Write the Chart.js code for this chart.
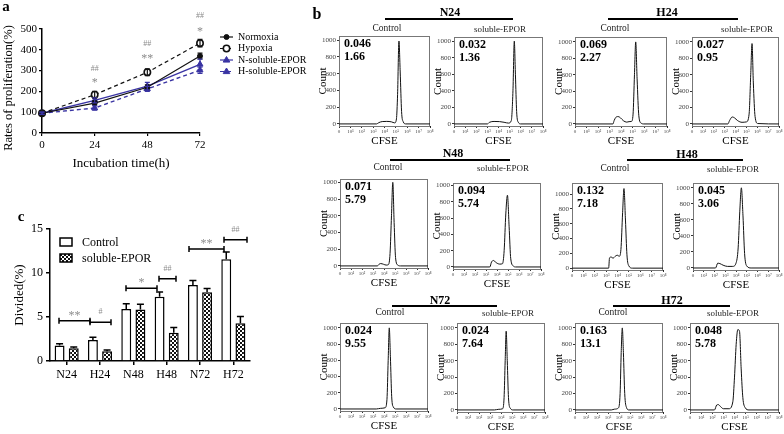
<!DOCTYPE html>
<html><head><meta charset="utf-8">
<script src="https://cdn.jsdelivr.net/npm/chart.js@4.4.1/dist/chart.umd.min.js"></script>
<style>
html,body{margin:0;padding:0;background:#fff;}
body{width:784px;height:434px;position:relative;overflow:hidden;font-family:'Liberation Serif','Times New Roman',serif;}
canvas{position:absolute;}
.t{position:absolute;white-space:nowrap;transform:translate(-50%,-50%);color:#000;line-height:1;}
.hl{position:absolute;height:0;border-top:2px solid #000;}
</style></head><body>
<script>
// ================= DATA =================
// Panel a: proliferation rates
const timePoints = [0, 24, 48, 72];
const normoxia = [95, 144, 220, 370];
const hypoxia = [95, 184, 292, 432];
const nSolubleEPOR = [95, 157, 225, 330];
const hSolubleEPOR = [95, 120, 212, 302];
const normoxiaErr = [5, 10, 12, 14];
const hypoxiaErr = [5, 16, 16, 18];
const nSolubleErr = [5, 12, 18, 25];
const hSolubleErr = [5, 10, 12, 15];
const sigTimeX = [24, 24, 48, 48, 72, 72];
const sigTimeY = [306, 254, 427, 370, 565, 503];
const sigTimeText = ['##', '*', '##', '**', '##', '*'];

// Panel c: divided cells
const groups = ['N24', 'H24', 'N48', 'H48', 'N72', 'H72'];
const dividedControl = [1.75, 2.4, 5.9, 7.3, 8.65, 11.55];
const dividedControlErr = [0.2, 0.3, 0.6, 0.55, 0.5, 0.85];
const dividedSoluble = [1.45, 1.1, 5.85, 3.2, 7.8, 4.3];
const dividedSolubleErr = [0.15, 0.15, 0.6, 0.6, 0.45, 0.75];
const bracketFrom = [-0.23, 0.7, 1.78, 2.77, 3.67, 4.72];
const bracketTo = [0.7, 1.33, 2.71, 3.28, 4.72, 5.41];
const bracketY = [4.56, 4.4, 8.28, 9.34, 12.72, 13.79];
const bracketText = ['**', '#', '*', '##', '**', '##'];

// Panel b: CFSE histograms ([log10 CFSE, count])
const countTicks = [0, 200, 400, 600, 800, 1000];
const cfseDecades = [0, 1, 2, 3, 4, 5, 6, 7, 8];
const histN24C = [[0,0],[3.3,0],[3.5,15],[3.8,28],[4.2,30],[4.6,25],[4.9,12],[5.05,60],[5.15,350],[5.27,990],[5.38,620],[5.5,150],[5.65,25],[5.85,0],[8,0]];
const histN24S = [[0,0],[3.0,0],[3.2,20],[3.6,30],[4.1,28],[4.5,20],[4.9,10],[5.15,40],[5.3,400],[5.42,1000],[5.52,600],[5.63,150],[5.78,20],[6.0,0],[8,0]];
const histH24C = [[0,0],[3.3,0],[3.4,40],[3.55,80],[3.75,90],[3.95,75],[4.2,40],[4.5,22],[4.7,28],[4.9,30],[5.05,120],[5.17,600],[5.28,1000],[5.4,550],[5.55,100],[5.75,10],[6,0],[8,0]];
const histH24S = [[0,0],[3.3,0],[3.45,40],[3.7,85],[3.9,75],[4.2,40],[4.6,20],[5.0,25],[5.25,120],[5.4,600],[5.52,980],[5.64,500],[5.8,90],[6.05,5],[8,0]];
const histN48C = [[0,0],[3.4,0],[3.55,20],[3.7,28],[3.95,20],[4.2,10],[4.4,15],[4.55,150],[4.68,600],[4.8,1000],[4.92,520],[5.05,100],[5.25,10],[5.5,0],[8,0]];
const histN48S = [[0,0],[3.35,0],[3.5,60],[3.68,80],[3.9,55],[4.25,35],[4.5,40],[4.65,200],[4.8,650],[4.95,880],[5.1,500],[5.25,100],[5.5,10],[5.7,0],[8,0]];
const histH48C = [[0,0],[3.22,0],[3.3,140],[3.45,150],[3.6,135],[3.8,160],[3.98,175],[4.15,160],[4.3,250],[4.45,750],[4.57,1075],[4.7,650],[4.83,180],[5.0,30],[5.3,0],[8,0]];
const histH48S = [[0,0],[2.1,0],[2.3,60],[2.5,55],[2.8,35],[3.2,20],[3.7,20],[4.0,60],[4.2,250],[4.35,700],[4.5,1000],[4.65,650],[4.8,180],[5.0,25],[5.4,0],[8,0]];
const histN72C = [[0,0],[3.3,0],[3.7,8],[4.1,15],[4.27,120],[4.38,600],[4.48,1000],[4.58,650],[4.7,150],[4.85,25],[5.1,0],[8,0]];
const histN72S = [[0,0],[3.4,0],[3.8,8],[4.15,15],[4.28,150],[4.38,600],[4.47,960],[4.57,600],[4.68,150],[4.85,20],[5.1,0],[8,0]];
const histH72C = [[0,0],[3.3,0],[3.6,10],[3.95,25],[4.1,200],[4.2,700],[4.3,1000],[4.4,700],[4.52,200],[4.68,30],[4.9,0],[8,0]];
const histH72S = [[0,0],[2.2,0],[2.4,60],[2.55,65],[2.75,40],[3.0,15],[3.5,15],[3.85,100],[4.0,400],[4.15,800],[4.3,980],[4.45,960],[4.6,500],[4.75,150],[4.95,30],[5.3,0],[8,0]];
const histStatA = ['0.046','0.032','0.069','0.027','0.071','0.094','0.132','0.045','0.024','0.024','0.163','0.048'];
const histStatB = ['1.66','1.36','2.27','0.95','5.79','5.74','7.18','3.06','9.55','7.64','13.1','5.78'];

// ================= LAYOUT =================
const SERIF = "'Liberation Serif','Times New Roman',serif";
const BLUE = '#3a34a3';
// histogram plot boxes [left, top, right, bottom]
const histBoxes = [
  [339,36,430,126],[454,37,543,126],[575,37,667,126],[692,37,779,126],
  [340,179,428,268],[453,183,541,269],[572,183,663,270],[693,183,779,270],
  [340,323,428,411],[457,323,545,412],[575,323,663,412],[690,323,779,412]
];
const histYMax = [1050,1050,1060,1060,1040,1030,1150,1060,1060,1060,1060,1060];
const histSeries = [histN24C,histN24S,histH24C,histH24S,histN48C,histN48S,histH48C,histH48S,histN72C,histN72S,histH72C,histH72S];
// group headers: [centerX, titleY, lineL, lineR, lineY, controlX, solubleX, subY]
const headerPos = [
  [450,12,385,513,19,387,500,29],[667,12,608,738,19,615,747,29],
  [453,153,390,510,160,388,503,168],[687,154,627,743,160,615,733,169],
  [440,300,392,497,306,390,508,313],[672,300,613,730,306,613,733,313]
];

Chart.defaults.font.family = SERIF;
Chart.defaults.color = '#000';
Chart.defaults.animation = false;
Chart.defaults.responsive = false;
Chart.defaults.devicePixelRatio = 1;
Chart.defaults.plugins.legend.display = false;
Chart.defaults.plugins.tooltip.enabled = false;

function mkCanvas(left, top, w, h) {
  const c = document.createElement('canvas');
  c.width = w; c.height = h;
  c.style.left = left + 'px'; c.style.top = top + 'px';
  c.style.width = w + 'px'; c.style.height = h + 'px';
  document.body.appendChild(c);
  return c;
}
function addText(txt, x, y, css, rot) {
  const d = document.createElement('div');
  d.className = 't'; d.textContent = txt;
  d.style.left = x + 'px'; d.style.top = y + 'px';
  d.style.cssText += css || '';
  if (rot) d.style.transform = 'translate(-50%,-50%) rotate(' + rot + 'deg)';
  document.body.appendChild(d);
  return d;
}
function addLine(l, r, y) {
  const d = document.createElement('div');
  d.className = 'hl';
  d.style.left = l + 'px'; d.style.top = (y - 1) + 'px'; d.style.width = (r - l) + 'px';
  document.body.appendChild(d);
}
function drawMarker(ctx, style, r, fill, stroke, bw, x, y) {
  ctx.save();
  ctx.setLineDash([]);
  ctx.lineWidth = bw; ctx.fillStyle = fill; ctx.strokeStyle = stroke;
  ctx.beginPath();
  if (style === 'triangle') {
    ctx.moveTo(x, y - r); ctx.lineTo(x - r * 0.95, y + r * 0.6); ctx.lineTo(x + r * 0.95, y + r * 0.6); ctx.closePath();
  } else {
    ctx.arc(x, y, r, 0, Math.PI * 2);
  }
  ctx.fill(); ctx.stroke();
  ctx.restore();
}

// ================= PANEL A =================
(function () {
  const c = mkCanvas(0, 0, 320, 175);
  const pts = arr => timePoints.map((t, i) => ({ x: t, y: arr[i] }));
  const errs = [normoxiaErr, hypoxiaErr, nSolubleErr, hSolubleErr];
  const errPlugin = {
    id: 'errA',
    afterDatasetsDraw(chart) {
      const ctx = chart.ctx, xs = chart.scales.x, ys = chart.scales.y;
      ctx.save();
      chart.data.datasets.forEach((ds, di) => {
        ctx.strokeStyle = ds.borderColor; ctx.lineWidth = 1.2;
        ds.data.forEach((p, i) => {
          const e = errs[di][i];
          const px = xs.getPixelForValue(p.x);
          const y1 = ys.getPixelForValue(p.y + e), y2 = ys.getPixelForValue(p.y - e);
          ctx.beginPath();
          ctx.moveTo(px, y1); ctx.lineTo(px, y2);
          ctx.moveTo(px - 2.5, y1); ctx.lineTo(px + 2.5, y1);
          ctx.moveTo(px - 2.5, y2); ctx.lineTo(px + 2.5, y2);
          ctx.stroke();
        });
      });
      ctx.restore();
    },
    afterDraw(chart) {
      const ctx = chart.ctx, xs = chart.scales.x, ys = chart.scales.y;
      ctx.save();
      ctx.fillStyle = '#8c8c8c'; ctx.textAlign = 'center'; ctx.textBaseline = 'middle';
      sigTimeText.forEach((t, i) => {
        const px = xs.getPixelForValue(sigTimeX[i]);
        const py = ys.getPixelForValue(sigTimeY[i]);
        if (t.indexOf('#') >= 0) { ctx.font = '8px ' + SERIF; ctx.fillText(t, px, py); }
        else { ctx.font = '12px ' + SERIF; ctx.fillText(t, px, py + 3); }
      });
      // legend
      ctx.textAlign = 'left'; ctx.font = '10px ' + SERIF; ctx.fillStyle = '#000';
      chart.data.datasets.forEach((ds, i) => {
        const y = 37 + i * 11.5;
        ctx.strokeStyle = ds.borderColor; ctx.lineWidth = 1.2; ctx.setLineDash(ds.borderDash || []);
        ctx.beginPath(); ctx.moveTo(220, y); ctx.lineTo(233, y); ctx.stroke(); ctx.setLineDash([]);
        drawMarker(ctx, ds.pointStyle, ds.pointRadius, ds.pointBackgroundColor, ds.pointBorderColor, ds.pointBorderWidth, 226.5, y);
        ctx.fillStyle = '#000';
        ctx.fillText(ds.label, 238, y);
      });
      ctx.restore();
    }
  };
  new Chart(c, {
    type: 'line',
    data: {
      datasets: [
        { label: 'Normoxia', data: pts(normoxia), borderColor: '#111', borderWidth: 1.2, pointStyle: 'circle', pointRadius: 2.5, pointBackgroundColor: '#111', pointBorderColor: '#111', pointBorderWidth: 1 },
        { label: 'Hypoxia', data: pts(hypoxia), borderColor: '#111', borderWidth: 1.2, borderDash: [4, 3], pointStyle: 'circle', pointRadius: 3.2, pointBackgroundColor: '#fff', pointBorderColor: '#111', pointBorderWidth: 1.6 },
        { label: 'N-soluble-EPOR', data: pts(nSolubleEPOR), borderColor: BLUE, borderWidth: 1.4, pointStyle: 'triangle', pointRadius: 3.5, pointBackgroundColor: BLUE, pointBorderColor: BLUE, pointBorderWidth: 1 },
        { label: 'H-soluble-EPOR', data: pts(hSolubleEPOR), borderColor: BLUE, borderWidth: 1.4, borderDash: [4, 3], pointStyle: 'triangle', pointRadius: 3.5, pointBackgroundColor: BLUE, pointBorderColor: BLUE, pointBorderWidth: 1 }
      ]
    },
    options: {
      layout: { padding: { top: 29, right: 120, left: 0, bottom: 0 } },
      clip: false,
      scales: {
        x: {
          type: 'linear', min: 0, max: 72,
          afterFit: s => { s.height = 42; },
          ticks: { stepSize: 24, font: { size: 11 }, padding: 3, color: '#000' },
          grid: { drawOnChartArea: false, tickLength: 3, color: '#000', lineWidth: 1.2 },
          border: { color: '#000', width: 1.5 },
          title: { display: true, text: 'Incubation time(h)', font: { size: 13 }, padding: { top: 0, bottom: 4 } }
        },
        y: {
          min: 0, max: 500,
          afterFit: s => { s.width = 42; },
          ticks: { stepSize: 100, font: { size: 11 }, padding: 2, color: '#000' },
          grid: { drawOnChartArea: false, tickLength: 3, color: '#000', lineWidth: 1.2 },
          border: { color: '#000', width: 1.5 },
          title: { display: false }
        }
      }
    },
    plugins: [errPlugin]
  });
  addText('Rates of proliferation(%)', 8, 88, 'font-size:12.5px;', -90);
  addText('a', 6, 6, 'font-size:15px;font-weight:bold;');
})();

// ================= PANEL C =================
(function () {
  const c = mkCanvas(0, 200, 270, 190);
  const ctx0 = c.getContext('2d');
  const tile = document.createElement('canvas'); tile.width = 4; tile.height = 4;
  const tg = tile.getContext('2d');
  tg.fillStyle = '#111'; tg.fillRect(0, 0, 4, 4);
  tg.fillStyle = '#fff'; tg.fillRect(0, 0, 2, 2); tg.fillRect(2, 2, 2, 2);
  const pattern = ctx0.createPattern(tile, 'repeat');
  const errs = [dividedControlErr, dividedSolubleErr];
  const plug = {
    id: 'extrasC',
    afterDatasetsDraw(chart) {
      const ctx = chart.ctx, xs = chart.scales.x, ys = chart.scales.y;
      ctx.save();
      ctx.strokeStyle = '#000'; ctx.lineWidth = 1.5;
      chart.data.datasets.forEach((ds, di) => {
        const meta = chart.getDatasetMeta(di);
        meta.data.forEach((bar, i) => {
          const top = ys.getPixelForValue(ds.data[i]);
          const ey = ys.getPixelForValue(ds.data[i] + errs[di][i]);
          ctx.beginPath();
          ctx.moveTo(bar.x, top); ctx.lineTo(bar.x, ey);
          ctx.moveTo(bar.x - 3.5, ey); ctx.lineTo(bar.x + 3.5, ey);
          ctx.stroke();
        });
      });
      // brackets
      bracketText.forEach((t, i) => {
        const x1 = xs.getPixelForValue(bracketFrom[i]);
        const x2 = xs.getPixelForValue(bracketTo[i]);
        const y = ys.getPixelForValue(bracketY[i]);
        ctx.strokeStyle = '#000'; ctx.lineWidth = 1.5;
        ctx.beginPath();
        ctx.moveTo(x1, y); ctx.lineTo(x2, y);
        ctx.moveTo(x1, y - 3); ctx.lineTo(x1, y + 3);
        ctx.moveTo(x2, y - 3); ctx.lineTo(x2, y + 3);
        ctx.stroke();
        ctx.fillStyle = '#8c8c8c'; ctx.textAlign = 'center'; ctx.textBaseline = 'middle';
        if (t.indexOf('#') >= 0) { ctx.font = '8px ' + SERIF; ctx.fillText(t, (x1 + x2) / 2, y - 10); }
        else { ctx.font = '12px ' + SERIF; ctx.fillText(t, (x1 + x2) / 2, y - 5); }
      });
      // legend
      ctx.lineWidth = 1.5; ctx.strokeStyle = '#000';
      ctx.fillStyle = '#fff'; ctx.fillRect(60, 38, 12, 8); ctx.strokeRect(60, 38, 12, 8);
      ctx.fillStyle = pattern; ctx.fillRect(60, 54, 12, 8); ctx.strokeRect(60, 54, 12, 8);
      ctx.fillStyle = '#000'; ctx.font = '12px ' + SERIF; ctx.textAlign = 'left'; ctx.textBaseline = 'middle';
      ctx.fillText('Control', 82, 42.5);
      ctx.fillText('soluble-EPOR', 82, 58.5);
      ctx.restore();
    }
  };
  new Chart(c, {
    type: 'bar',
    data: {
      labels: groups,
      datasets: [
        { label: 'Control', data: dividedControl, backgroundColor: '#fff', borderColor: '#000', borderWidth: 1.5, categoryPercentage: 0.85, barPercentage: 0.7 },
        { label: 'soluble-EPOR', data: dividedSoluble, backgroundColor: pattern, borderColor: '#000', borderWidth: 1.5, categoryPercentage: 0.85, barPercentage: 0.7 }
      ]
    },
    options: {
      layout: { padding: { top: 29, right: 20, left: 0, bottom: 0 } },
      scales: {
        x: {
          afterFit: s => { s.height = 29; },
          ticks: { font: { size: 12 }, padding: 3, color: '#000' },
          grid: { offset: false, drawOnChartArea: false, tickLength: 4, color: '#000', lineWidth: 1.5 },
          border: { color: '#000', width: 1.5 }
        },
        y: {
          min: 0, max: 15,
          afterFit: s => { s.width = 50; },
          ticks: { stepSize: 5, font: { size: 12 }, padding: 3, color: '#000' },
          grid: { drawOnChartArea: false, tickLength: 4, color: '#000', lineWidth: 1.5 },
          border: { color: '#000', width: 1.5 },
          title: { display: true, text: 'Divided(%)', font: { size: 13 }, padding: { top: 12, bottom: 0 } }
        }
      }
    },
    plugins: [plug]
  });
  addText('c', 21, 216, 'font-size:15px;font-weight:bold;');
})();

// ================= PANEL B =================
const sup = ['\u2070', '\u00B9', '\u00B2', '\u00B3', '\u2074', '\u2075', '\u2076', '\u2077', '\u2078'];
const boxPlugin = {
  id: 'histBox',
  beforeDatasetsDraw(chart) {
    const a = chart.chartArea, ctx = chart.ctx;
    ctx.save(); ctx.strokeStyle = '#777'; ctx.lineWidth = 1;
    ctx.strokeRect(a.left + 0.5, a.top + 0.5, a.right - a.left - 1, a.bottom - a.top);
    ctx.restore();
  },
  afterDraw(chart, args, opts) {
    const a = chart.chartArea, ctx = chart.ctx;
    ctx.save();
    ctx.fillStyle = '#000'; ctx.font = 'bold 12px ' + SERIF; ctx.textBaseline = 'middle'; ctx.textAlign = 'left';
    ctx.fillText(opts.a, a.left + 5, a.top + 8);
    ctx.fillText(opts.b, a.left + 5, a.top + 21);
    ctx.restore();
  }
};
histSeries.forEach((series, i) => {
  const b = histBoxes[i];
  const padL = 22, padT = 8, padR = 6, xH = 22;
  const w = b[2] - b[0] + padL + padR, h = b[3] - b[1] + padT + xH;
  const c = mkCanvas(b[0] - padL, b[1] - padT, w, h);
  new Chart(c, {
    type: 'line',
    data: { datasets: [{ data: series.map(p => ({ x: p[0], y: p[1] })), borderColor: '#111', borderWidth: 1, pointRadius: 0, cubicInterpolationMode: 'monotone', fill: false }] },
    options: {
      layout: { padding: { top: padT, right: padR, left: 0, bottom: 0 } },
      plugins: { histBox: { a: histStatA[i], b: histStatB[i] } },
      scales: {
        x: {
          type: 'linear', min: 0, max: 8,
          afterFit: s => { s.height = xH; },
          afterBuildTicks: s => { s.ticks = cfseDecades.map(v => ({ value: v })); },
          ticks: { autoSkip: false, maxRotation: 0, font: { size: 5 }, padding: 1, color: '#444', callback: v => v === 0 ? '0' : '10' + sup[v] },
          grid: { drawOnChartArea: false, tickLength: 2, color: '#333' },
          border: { color: '#222', width: 1 },
          title: { display: true, text: 'CFSE', font: { size: 11 }, padding: { top: 0, bottom: 0 } }
        },
        y: {
          min: -25, max: histYMax[i],
          afterFit: s => { s.width = padL; },
          afterBuildTicks: s => { s.ticks = countTicks.map(v => ({ value: v })); },
          ticks: { font: { size: 7 }, padding: 1, color: '#444', callback: v => String(v) },
          grid: { drawOnChartArea: false, tickLength: 2, color: '#333' },
          border: { color: '#222', width: 1 },
          title: { display: true, text: 'Count', font: { size: 11 }, padding: { top: 0, bottom: 0 } }
        }
      }
    },
    plugins: [boxPlugin]
  });
});
groups.forEach((g, i) => {
  const p = headerPos[i];
  addText(g, p[0], p[1], 'font-size:12px;font-weight:bold;');
  addLine(p[2], p[3], p[4]);
  addText('Control', p[5], p[7], 'font-size:9.5px;color:#222;');
  addText('soluble-EPOR', p[6], p[7], 'font-size:9px;color:#222;');
});
addText('b', 317, 14, 'font-size:16px;font-weight:bold;');
</script>
</body></html>
